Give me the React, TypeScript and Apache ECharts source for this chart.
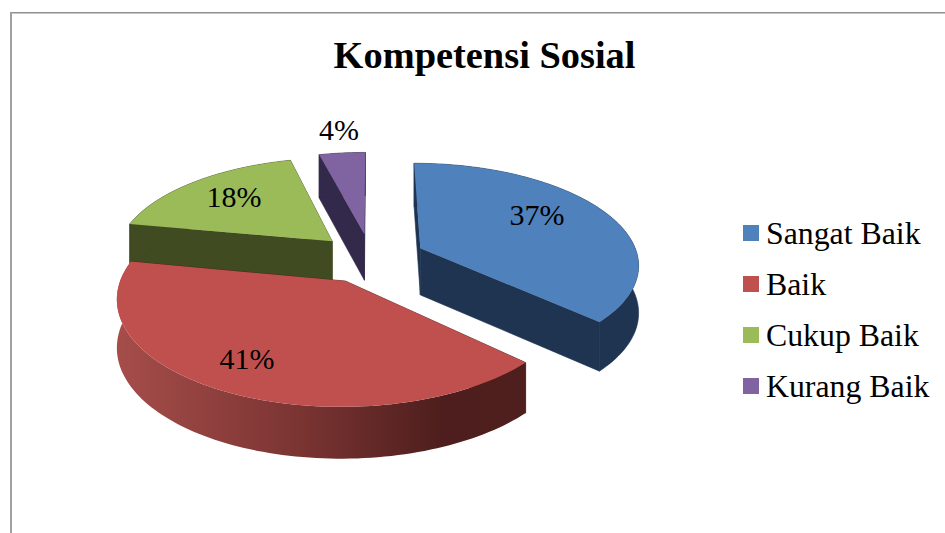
import React, { useEffect, useRef } from "react";
import * as echarts from "echarts";

const titleText = "Kompetensi Sosial";
const categories = ["Sangat Baik", "Baik", "Cukup Baik", "Kurang Baik"];
const percentValues = [37, 41, 18, 4];

const topColors = ["#4f81bd", "#c0504d", "#9bbb59", "#8064a2"];
const wallColors = ["#1f3450", "#4f1f1e", "#404b22", "#33294a"];
const paintOrder = [3, 4, 2, 1];
const labelSpots = [
  [537, 214],
  [247, 358],
  [234, 196],
  [339, 129],
];

const FONT = '"Liberation Serif", "Times New Roman", serif';
const view = { cx: 371, cy: 258, rx: 218, ry: 100, k: 0.146, explode: 0.25, depth: 47 };

function project(X: number, Z: number) {
  const s = 1 / (1 + view.k * Z);
  return { x: view.cx + view.rx * X * s, y: view.cy - view.ry * Z * s, s };
}

function buildSlice(index: number) {
  const total = percentValues.reduce((a, b) => a + b, 0);
  const startValue = percentValues.slice(0, index).reduce((a, b) => a + b, 0);
  const a0 = (startValue / total) * Math.PI * 2;
  const a1 = ((startValue + percentValues[index]) / total) * Math.PI * 2;
  const mid = (a0 + a1) / 2;
  const ox = view.explode * Math.sin(mid);
  const oz = view.explode * Math.cos(mid);

  const top = (X: number, Z: number) => {
    const p = project(X, Z);
    return [p.x, p.y];
  };
  const bottom = (X: number, Z: number) => {
    const p = project(X, Z);
    return [p.x, p.y + view.depth * Math.sqrt(p.s)];
  };

  const steps = Math.max(4, Math.ceil((a1 - a0) / (Math.PI / 120)));
  const rim: number[][] = [];
  for (let i = 0; i <= steps; i++) {
    const t = a0 + ((a1 - a0) * i) / steps;
    rim.push([ox + Math.sin(t), oz + Math.cos(t)]);
  }
  const apex = [ox, oz];
  return {
    top: [top(apex[0], apex[1]), ...rim.map((r) => top(r[0], r[1]))],
    faceStart: [top(apex[0], apex[1]), top(rim[0][0], rim[0][1]), bottom(rim[0][0], rim[0][1]), bottom(apex[0], apex[1])],
    faceEnd: [
      top(apex[0], apex[1]),
      top(rim[steps][0], rim[steps][1]),
      bottom(rim[steps][0], rim[steps][1]),
      bottom(apex[0], apex[1]),
    ],
    wall: [...rim.map((r) => top(r[0], r[1])), ...rim.map((r) => bottom(r[0], r[1])).reverse()],
  };
}

export default function App() {
  const ref = useRef<HTMLDivElement>(null);
  useEffect(() => {
    const chart = echarts.init(ref.current!, undefined, { renderer: "svg" });
    const series = categories.map((name, index) => ({
      type: "custom",
      name,
      coordinateSystem: "none",
      z: paintOrder[index],
      silent: true,
      itemStyle: { color: topColors[index] },
      data: [[percentValues[index]]],
      renderItem: (_params: any, api: any) => {
        const shape = buildSlice(index);
        const wallFill =
          index === 1
            ? new echarts.graphic.LinearGradient(0, 0, 1, 0, [
                { offset: 0, color: "#a64d4a" },
                { offset: 0.45, color: "#7a3432" },
                { offset: 0.8, color: "#4d1e1d" },
                { offset: 1, color: "#4f1f1e" },
              ])
            : wallColors[index];
        const seam = { stroke: wallColors[index], lineWidth: 0.6 };
        return {
          type: "group",
          children: [
            { type: "polygon", shape: { points: shape.faceEnd }, style: { fill: wallColors[index], ...seam } },
            { type: "polygon", shape: { points: shape.faceStart }, style: { fill: wallColors[index], ...seam } },
            {
              type: "polygon",
              shape: { points: shape.wall },
              style: index === 1 ? { fill: wallFill } : { fill: wallFill, ...seam },
            },
            { type: "polygon", shape: { points: shape.top }, style: { fill: topColors[index] } },
            {
              type: "text",
              z2: 10,
              style: {
                text: `${api.value(0)}%`,
                x: labelSpots[index][0],
                y: labelSpots[index][1],
                fill: "#000",
                font: `30px ${FONT}`,
                align: "center",
                verticalAlign: "middle",
              },
            },
          ],
        };
      },
    }));
    chart.setOption({
      animation: false,
      backgroundColor: "#fff",
      title: {
        text: titleText,
        left: 479.5,
        top: 31,
        textAlign: "center",
        textStyle: { fontFamily: FONT, fontSize: 38.4, fontWeight: "bold", color: "#000" },
      },
      legend: {
        orient: "vertical",
        left: 743,
        top: 217,
        padding: 0,
        itemWidth: 16,
        itemHeight: 16,
        itemGap: 19,
        selectedMode: false,
        icon: "rect",
        data: categories,
        textStyle: { fontFamily: FONT, fontSize: 31.8, color: "#000", padding: [0, 0, 0, 2] },
      },
      graphic: [
        { type: "rect", silent: true, shape: { x: 10, y: 12, width: 935, height: 1.5 }, style: { fill: "#8f8f8f" } },
        { type: "rect", silent: true, shape: { x: 10, y: 12, width: 2, height: 521 }, style: { fill: "#a0a0a0" } },
      ],
      series,
    });
    return () => chart.dispose();
  }, []);
  return <div ref={ref} style={{ position: "absolute", left: 0, top: 0, width: 945, height: 533 }} />;
}
